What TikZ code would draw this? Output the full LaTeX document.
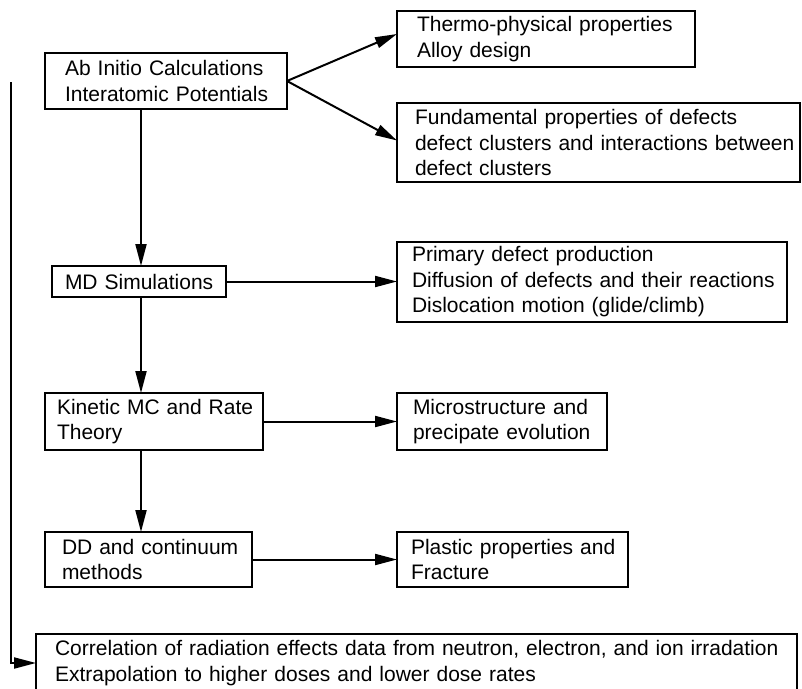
\documentclass[tikz,border=0pt]{standalone}
\usepackage{fontspec}
\setmainfont{Liberation Sans}
\usetikzlibrary{arrows.meta,calc}
\newcommand{\oneln}[1]{\mbox{#1}}
\begin{document}
\begin{tikzpicture}[x=1pt,y=-1pt,
  box/.style={draw, line width=2pt, outer sep=0pt, inner ysep=0pt,
    anchor=north west, align=left, font=\fontsize{21}{25.5}\selectfont},
  arr/.style={line width=2pt, -{Triangle[length=22pt,width=11pt]}}]
\useasboundingbox (0,0) rectangle (802,688);
\node[box, minimum width=242pt, minimum height=56pt, inner xsep=20pt, text width=202pt] (A) at (45,53)
  {\oneln{Ab Initio Calculations}\\\oneln{Interatomic Potentials}};
\node[box, minimum width=298pt, minimum height=56pt, inner xsep=20pt, text width=258pt] (T) at (397,11)
  {\oneln{Thermo-physical properties}\\\oneln{Alloy design}};
\node[box, minimum width=403pt, minimum height=79pt, inner xsep=18pt, text width=367pt] (F) at (397,103)
  {\oneln{Fundamental properties of defects}\\\oneln{defect clusters and interactions between}\\\oneln{defect clusters}};
\node[box, minimum width=174pt, minimum height=31pt, inner xsep=13pt, text width=148pt] (MD) at (52,266)
  {\oneln{MD Simulations}};
\node[box, minimum width=390pt, minimum height=80pt, inner xsep=15pt, text width=360pt] (P) at (397,242)
  {\oneln{Primary defect production}\\\oneln{Diffusion of defects and their reactions}\\\oneln{Dislocation motion (glide/climb)}};
\node[box, minimum width=218pt, minimum height=57pt, inner xsep=12pt, text width=194pt] (K) at (45,393)
  {\oneln{Kinetic MC and Rate}\\\oneln{Theory}};
\node[box, minimum width=210pt, minimum height=57pt, inner xsep=16pt, text width=178pt] (M) at (397,393)
  {\oneln{Microstructure and}\\\oneln{precipate evolution}};
\node[box, minimum width=207pt, minimum height=55pt, inner xsep=17pt, text width=173pt] (D) at (45,532)
  {\oneln{DD and continuum}\\\oneln{methods}};
\node[box, minimum width=231pt, minimum height=55pt, inner xsep=14pt, text width=203pt] (PL) at (397,532)
  {\oneln{Plastic properties and}\\\oneln{Fracture}};
\node[box, minimum width=761pt, minimum height=58pt, inner xsep=19pt, text width=723pt] (C) at (36,634)
  {\oneln{Correlation of radiation effects data from neutron, electron, and ion irradation}\\\oneln{Extrapolation to higher doses and lower dose rates}};
\coordinate (vx) at (141,0);
\coordinate (fbtop) at (11,82);
\draw[arr] (A.east) -- ($(T.west)+(0,-5)$);
\draw[arr] (A.east) -- ($(F.west)+(0,-2)$);
\draw[arr] (A.south -| vx) -- (MD.north -| vx);
\draw[arr] (MD.south -| vx) -- (K.north -| vx);
\draw[arr] (K.south -| vx) -- (D.north -| vx);
\draw[arr] (MD.east) -- (MD.east -| P.west);
\draw[arr] (K.east) -- (K.east -| M.west);
\draw[arr] (D.east) -- (D.east -| PL.west);
\draw[arr] (fbtop) |- (C.west);
\end{tikzpicture}
\end{document}
